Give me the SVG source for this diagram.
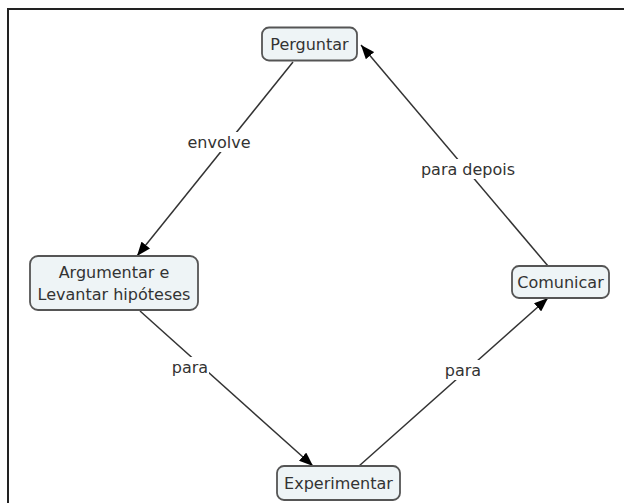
<svg xmlns="http://www.w3.org/2000/svg" width="624" height="503" viewBox="0 0 624 503">
<defs>
<style>
.node rect{fill:#eef4f6;stroke:#555;stroke-width:1.8}
.node text{font-family:"DejaVu Sans",Verdana,sans-serif;font-size:16px;fill:#333;text-anchor:middle}
.conn line{stroke:#333;stroke-width:1.5}
.lbl rect{fill:#fff}
.lbl text{font-family:"DejaVu Sans",Verdana,sans-serif;font-size:16px;fill:#333;text-anchor:middle}
</style>
<marker id="ah" viewBox="0 0 14 11" refX="14" refY="5.5" markerWidth="14" markerHeight="11" markerUnits="userSpaceOnUse" orient="auto">
<path d="M0,0 L14,5.5 L0,11 Z" fill="#000"/>
</marker>
</defs>
<rect width="624" height="503" fill="#fff"/>
<path d="M8,503 V9 H624" fill="none" stroke="#222" stroke-width="2"/>
<g id="connectors" class="conn">
<line x1="293" y1="62" x2="137" y2="256" marker-end="url(#ah)"/>
<line x1="140" y1="311" x2="313" y2="466" marker-end="url(#ah)"/>
<line x1="359" y1="466" x2="548" y2="298" marker-end="url(#ah)"/>
<line x1="548" y1="266" x2="361" y2="45" marker-end="url(#ah)"/>
<g class="lbl">
<rect x="188" y="132" width="62" height="20"/>
<text x="219" y="148">envolve</text>
<rect x="171" y="357" width="38" height="20"/>
<text x="190" y="373">para</text>
<rect x="444" y="360" width="38" height="20"/>
<text x="463" y="376">para</text>
<rect x="420" y="159" width="96" height="20"/>
<text x="468" y="175">para depois</text>
</g>
</g>
<g id="perguntar" class="node">
<rect x="262" y="27.5" width="95" height="33" rx="7"/>
<text x="309.5" y="50">Perguntar</text>
</g>
<g id="argumentar" class="node">
<rect x="30" y="256" width="168" height="54" rx="8"/>
<text x="114" y="278">Argumentar e</text>
<text x="114" y="300">Levantar hipóteses</text>
</g>
<g id="comunicar" class="node">
<rect x="512" y="266" width="97" height="32" rx="7"/>
<text x="560.5" y="288">Comunicar</text>
</g>
<g id="experimentar" class="node">
<rect x="277" y="466" width="123" height="34" rx="7"/>
<text x="338.5" y="489">Experimentar</text>
</g>
</svg>
